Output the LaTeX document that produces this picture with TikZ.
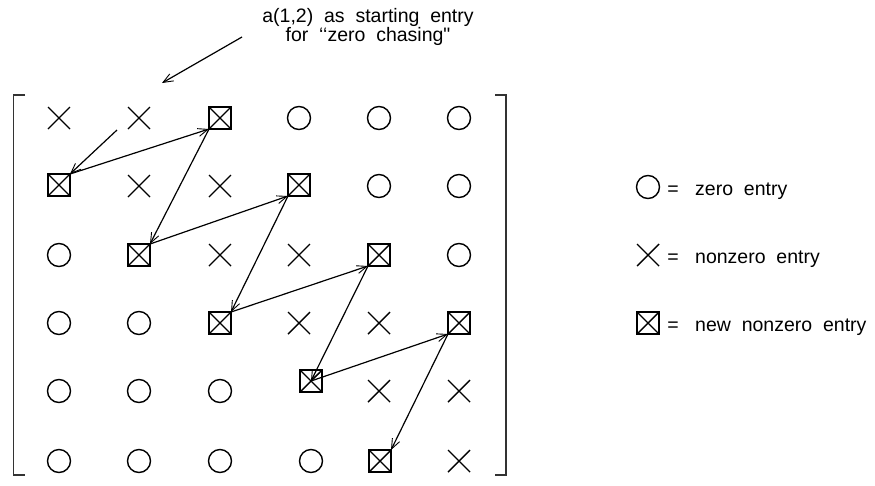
\documentclass[tikz,border=0pt]{standalone}
\usepackage{fontspec}
\setmainfont{Liberation Sans}[Ligatures=TeXOff]
\usetikzlibrary{shapes.misc,arrows.meta}
\begin{document}
\begin{tikzpicture}[x=1pt,y=-1pt,
  zero/.style={circle,draw,line width=1.4pt,minimum size=23pt,inner sep=0pt,outer sep=0pt},
  nz/.style={cross out,draw,line width=1.4pt,minimum size=22pt,inner sep=0pt,outer sep=0pt},
  newnz/.style={rectangle,draw,line width=1.8pt,minimum size=22pt,inner sep=0pt,outer sep=0pt,
    path picture={\draw[line width=1.4pt] (path picture bounding box.north west)--(path picture bounding box.south east)
      (path picture bounding box.north east)--(path picture bounding box.south west);}},
  chase/.style={line width=1.2pt,-{Straight Barb[length=10pt,width=8pt,line width=0.9pt]}},
  txt/.style={font=\fontsize{19.5}{19}\selectfont,inner sep=0pt},
  bracket/.style={line width=1.6pt,color=black!80}
]
\useasboundingbox (0,0) rectangle (875,485);
% row 1
\node[nz]    (m11) at (59,118) {};
\node[nz]    (m12) at (139,118) {};
\node[newnz] (m13) at (220,118) {};
\node[zero]  (m14) at (299,118) {};
\node[zero]  (m15) at (379,118) {};
\node[zero]  (m16) at (459,118) {};
% row 2
\node[newnz] (m21) at (59,185) {};
\node[nz]    (m22) at (139,186) {};
\node[nz]    (m23) at (220,186) {};
\node[newnz] (m24) at (299,185) {};
\node[zero]  (m25) at (379,186) {};
\node[zero]  (m26) at (459,186) {};
% row 3
\node[zero]  (m31) at (59,255) {};
\node[newnz] (m32) at (139,255) {};
\node[nz]    (m33) at (220,255) {};
\node[nz]    (m34) at (299,255) {};
\node[newnz] (m35) at (379,255) {};
\node[zero]  (m36) at (459,255) {};
% row 4
\node[zero]  (m41) at (59,323) {};
\node[zero]  (m42) at (139,323) {};
\node[newnz] (m43) at (220,323) {};
\node[nz]    (m44) at (299,323) {};
\node[nz]    (m45) at (379,323) {};
\node[newnz] (m46) at (459,323) {};
% row 5
\node[zero]  (m51) at (59,391) {};
\node[zero]  (m52) at (139,391) {};
\node[zero]  (m53) at (220,391) {};
\node[newnz] (m54) at (311,381) {};
\node[nz]    (m55) at (379,391) {};
\node[nz]    (m56) at (459,391) {};
% row 6
\node[zero]  (m61) at (59,461) {};
\node[zero]  (m62) at (139,461) {};
\node[zero]  (m63) at (220,461) {};
\node[zero]  (m64) at (311,461) {};
\node[newnz] (m65) at (380,461) {};
\node[nz]    (m66) at (459,461) {};
% brackets
\draw[bracket] (25,95) -- (13.5,95) -- (13.5,475) -- (25,475);
\draw[bracket] (495,95) -- (506,95) -- (506,475) -- (495,475);
% annotation
\node[txt,align=center,anchor=north] (note) at (368,8.3) {a(1,2)\ \ as\ \ starting\ \ entry\\for\ \ {‘}{‘}zero\ \ chasing"};
\coordinate (noteTail) at (242,37);
\coordinate (noteTip) at (162,83);
\draw[chase] (noteTail) -- (noteTip);
% zero chasing
\coordinate (start) at (117,130);
\draw[chase] (start) -- (m21.north east);
\draw[chase] (m21.north east) -- (m13.south west);
\draw[chase] (m13.south west) -- (m32.north east);
\draw[chase] (m32.north east) -- (m24.south west);
\draw[chase] (m24.south west) -- (m43.north east);
\draw[chase] (m43.north east) -- (m35.south west);
\draw[chase] (m35.south west) -- (m54.center);
\draw[chase] (m54.center) -- (m46.south west);
\draw[chase] (m46.south west) -- (m65.north east);
% legend
\node[zero]  (l1) at (648,187) {};
\node[nz]    (l2) at (648,255) {};
\node[newnz] (l3) at (648,323) {};
\node[txt,anchor=base] (e1) at (673,195) {=};
\node[txt,anchor=base] (e2) at (673,263) {=};
\node[txt,anchor=base] (e3) at (673,331) {=};
\node[txt,anchor=base west] (t1) at (695,195) {zero\ \ entry};
\node[txt,anchor=base west] (t2) at (695,263) {nonzero\ \ entry};
\node[txt,anchor=base west] (t3) at (695,331) {new\ \ nonzero\ \ entry};
\end{tikzpicture}
\end{document}
